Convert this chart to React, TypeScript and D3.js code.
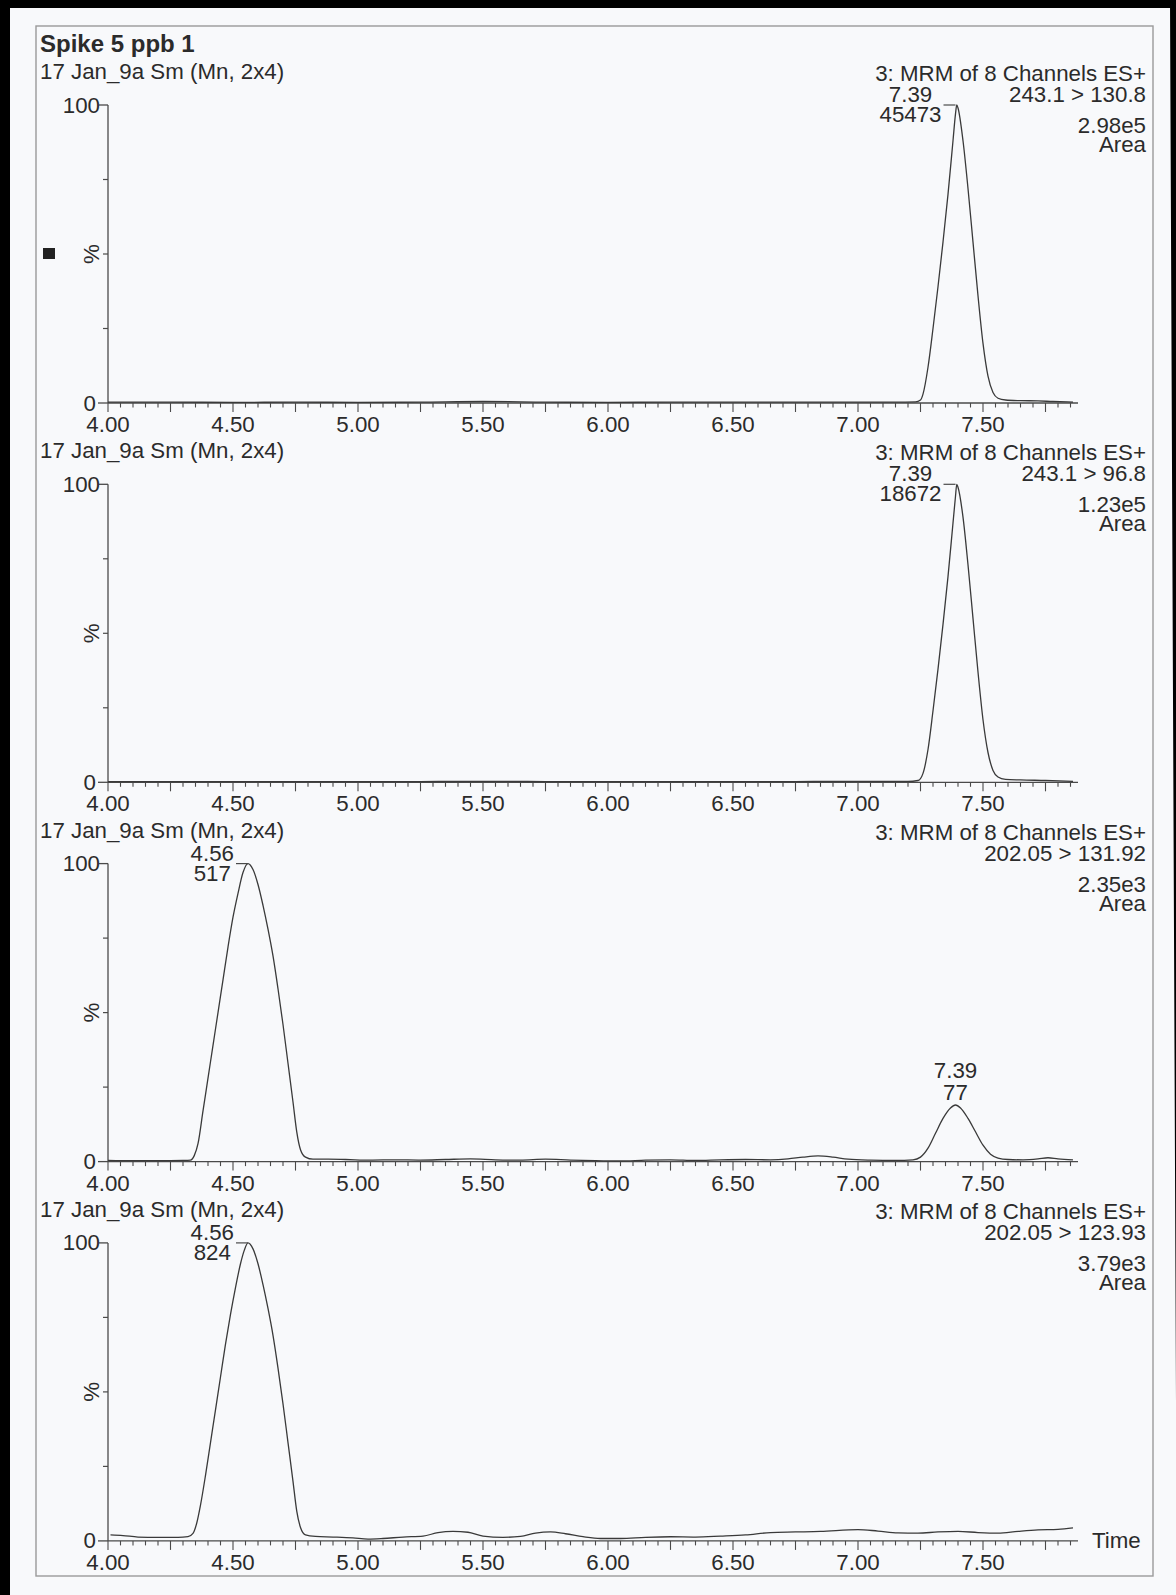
import React from "react";
import * as d3 from "d3";

const W = 1176;
const H = 1595;
const FONT = "'Liberation Sans', Arial, Helvetica, sans-serif";

// ---- text content ----
const title = "Spike 5 ppb 1";
const sampleHeaders = [
  "17 Jan_9a Sm (Mn, 2x4)",
  "17 Jan_9a Sm (Mn, 2x4)",
  "17 Jan_9a Sm (Mn, 2x4)",
  "17 Jan_9a Sm (Mn, 2x4)",
];
const functionLabels = [
  "3: MRM of 8 Channels ES+",
  "3: MRM of 8 Channels ES+",
  "3: MRM of 8 Channels ES+",
  "3: MRM of 8 Channels ES+",
];
const transitions = ["243.1 > 130.8", "243.1 > 96.8", "202.05 > 131.92", "202.05 > 123.93"];
const intensities = ["2.98e5", "1.23e5", "2.35e3", "3.79e3"];
const areaLabel = "Area";
const xTickValues = [4.0, 4.5, 5.0, 5.5, 6.0, 6.5, 7.0, 7.5];
const yMinorTicks = [25, 50, 75];
const xDomain = [4.0, 7.88];

// ---- peak annotations ----
const peakRt = [[7.39], [7.39], [4.56, 7.39], [4.56]];
const peakRtLabel = [["7.39"], ["7.39"], ["4.56", "7.39"], ["4.56"]];
const peakAreaLabel = [["45473"], ["18672"], ["517", "77"], ["824"]];
const peakPct = [[100], [100], [100, 19], [100]];

// ---- traces (time in min, intensity in %) ----
const time1 = [4.0, 4.25, 4.5, 4.75, 5.0, 5.25, 5.5, 5.75, 6.0, 6.25, 6.5, 6.75, 7.0, 7.15, 7.23, 7.25, 7.26, 7.28, 7.3, 7.32, 7.34, 7.36, 7.38, 7.39, 7.395, 7.4, 7.42, 7.44, 7.46, 7.48, 7.5, 7.52, 7.54, 7.56, 7.59, 7.65, 7.72, 7.78, 7.86];
const pct1 = [0.3, 0.3, 0.2, 0.3, 0.2, 0.3, 0.5, 0.3, 0.2, 0.3, 0.3, 0.3, 0.3, 0.3, 0.4, 1, 3, 12, 25, 39, 54, 70, 88, 97, 100, 99, 88, 72, 54, 36, 20, 9, 3.5, 1.6, 1.0, 0.8, 0.7, 0.5, 0.3];

const time2 = [4.0, 4.5, 5.0, 5.5, 6.0, 6.5, 7.0, 7.2, 7.24, 7.26, 7.28, 7.3, 7.32, 7.34, 7.36, 7.38, 7.39, 7.395, 7.4, 7.42, 7.44, 7.46, 7.48, 7.5, 7.52, 7.54, 7.56, 7.59, 7.65, 7.75, 7.86];
const pct2 = [0.2, 0.2, 0.2, 0.3, 0.2, 0.2, 0.3, 0.3, 0.6, 3, 11, 24, 38, 53, 69, 87, 96, 100, 99, 89, 73, 55, 37, 21, 10, 4, 1.8, 1.0, 0.8, 0.6, 0.3];

const time3 = [4.0, 4.1, 4.2, 4.3, 4.33, 4.345, 4.36, 4.38, 4.4, 4.42, 4.44, 4.46, 4.48, 4.5, 4.52, 4.54, 4.56, 4.58, 4.6, 4.62, 4.64, 4.66, 4.68, 4.7, 4.72, 4.74, 4.755, 4.77, 4.79, 4.82, 4.88, 4.95, 5.05, 5.15, 5.25, 5.35, 5.45, 5.55, 5.65, 5.75, 5.85, 5.95, 6.05, 6.15, 6.25, 6.35, 6.45, 6.55, 6.65, 6.72, 6.78, 6.84, 6.9, 6.96, 7.05, 7.15, 7.22, 7.25, 7.28, 7.31, 7.34, 7.37, 7.39, 7.41, 7.44, 7.47, 7.5, 7.53, 7.56, 7.6, 7.66, 7.72, 7.76, 7.8, 7.86];
const pct3 = [0.4, 0.3, 0.3, 0.4, 0.5, 2, 6, 17, 28, 39, 50, 61, 72, 82, 90, 97, 100, 98, 93, 86, 78, 69, 58, 46, 33, 20, 10, 4, 1.5, 0.8, 0.8, 0.7, 0.5, 0.6, 0.5, 0.7, 0.9, 0.6, 0.5, 0.8, 0.5, 0.3, 0.2, 0.5, 0.6, 0.4, 0.6, 0.7, 0.6, 0.9, 1.5, 1.9, 1.5, 0.8, 0.5, 0.4, 0.6, 1.5, 4.5, 9.5, 14.5, 18, 19, 18, 14.5, 10, 5.5, 2.5, 1.2, 0.7, 0.6, 0.9, 1.3, 0.9, 0.6];

const time4 = [4.01, 4.06, 4.12, 4.2, 4.28, 4.32, 4.34, 4.355, 4.37, 4.39, 4.41, 4.43, 4.45, 4.47, 4.49, 4.51, 4.53, 4.545, 4.56, 4.58, 4.6, 4.62, 4.64, 4.66, 4.68, 4.7, 4.72, 4.74, 4.755, 4.77, 4.79, 4.83, 4.9, 4.98, 5.04, 5.1, 5.18, 5.26, 5.32, 5.38, 5.44, 5.5, 5.58, 5.65, 5.71, 5.77, 5.83, 5.9, 5.97, 6.05, 6.15, 6.25, 6.35, 6.45, 6.55, 6.65, 6.75, 6.85, 7.0, 7.08, 7.16, 7.24, 7.32, 7.4, 7.48, 7.56, 7.64, 7.72, 7.8, 7.86];
const pct4 = [2.0, 1.8, 1.3, 1.2, 1.2, 1.4, 2.5, 6, 12, 22, 33, 44, 55, 66, 76, 85, 93, 97.5, 100, 98, 93, 86, 78, 69, 58, 46, 33, 20, 10, 4.5, 2, 1.5, 1.3, 1.0, 0.6, 0.8, 1.3, 1.6, 2.8, 3.2, 2.9, 1.6, 1.2, 1.5, 2.6, 3.0, 2.4, 1.4, 0.8, 0.8, 1.2, 1.4, 1.3, 1.6, 2.0, 2.8, 3.0, 3.2, 3.8, 3.3, 2.7, 2.6, 3.0, 3.2, 2.8, 2.6, 3.2, 3.7, 3.9, 4.4];

const traceTimes = [time1, time2, time3, time4];
const tracePcts = [pct1, pct2, pct3, pct4];

// ---- styling / layout ----
const TEXT = "#2b2b2b";
const LINE = "#4a4a4a";
const BG = "#f8f9fb";
const FS = 22.3;
const PANEL_TOP0 = 105;
const PANEL_PITCH = 379.3;
const PANEL_H = 298;
const X0 = 108;
const X1 = 1078;
const RIGHT_X = 1146;

function digitWidth(s: string) {
  let w = 0;
  for (const c of s) w += c === "." ? 0.278 : 0.556;
  return w * FS;
}

function Panel({ i }: { i: number }) {
  const yTop = PANEL_TOP0 + i * PANEL_PITCH;
  const yBot = yTop + PANEL_H;
  const x = d3.scaleLinear().domain(xDomain).range([X0, X1]);
  const y = d3.scaleLinear().domain([0, 100]).range([yBot, yTop]);
  const data = traceTimes[i].map((t, k) => [t, tracePcts[i][k]] as [number, number]);
  const line = d3
    .line<[number, number]>()
    .x((d) => x(d[0]))
    .y((d) => y(d[1]))
    .curve(d3.curveMonotoneX);

  const minor = d3.range(0, 78).map((k) => ({ v: 4.0 + k * 0.05, big: k % 5 === 0 }));

  return (
    <g>
      <text x={40} y={yTop - 26} fontSize={FS} fill={TEXT}>
        {sampleHeaders[i]}
      </text>
      <g textAnchor="end" fontSize={FS} fill={TEXT}>
        <text x={RIGHT_X} y={yTop - 24}>{functionLabels[i]}</text>
        <text x={RIGHT_X} y={yTop - 3}>{transitions[i]}</text>
        <text x={RIGHT_X} y={yTop + 28}>{intensities[i]}</text>
        <text x={RIGHT_X} y={yTop + 47}>{areaLabel}</text>
      </g>
      {/* y axis */}
      <line x1={X0} x2={X0} y1={y(0)} y2={y(100)} stroke={LINE} strokeWidth={1.3} />
      <line x1={X0 - 9} x2={X0} y1={y(100)} y2={y(100)} stroke={LINE} strokeWidth={1.3} />
      <line x1={X0 - 10} x2={X0} y1={y(0)} y2={y(0)} stroke={LINE} strokeWidth={1.3} />
      {yMinorTicks.map((v) => (
        <line key={v} x1={X0 - 5} x2={X0} y1={y(v)} y2={y(v)} stroke={LINE} strokeWidth={1.2} />
      ))}
      <text x={X0 - 8} y={y(100) + 7.5} textAnchor="end" fontSize={FS} fill={TEXT}>100</text>
      <text x={X0 - 12} y={y(0) + 7.5} textAnchor="end" fontSize={FS} fill={TEXT}>0</text>
      <text
        transform={`translate(91,${(yTop + yBot) / 2}) rotate(-90)`}
        textAnchor="middle"
        dominantBaseline="central"
        fontSize={FS}
        fill={TEXT}
      >
        %
      </text>
      {i === 0 && <rect x={43} y={(yTop + yBot) / 2 - 6} width={12} height={11} fill="#222" />}
      {/* x axis */}
      <line x1={X0} x2={X1} y1={yBot} y2={yBot} stroke={LINE} strokeWidth={1.3} />
      {minor.map((m, k) => (
        <line
          key={k}
          x1={x(m.v)}
          x2={x(m.v)}
          y1={yBot}
          y2={yBot + (m.big ? 9 : 4.5)}
          stroke={LINE}
          strokeWidth={1.1}
        />
      ))}
      {xTickValues.map((v) => (
        <text key={v} x={x(v)} y={yBot + 29} textAnchor="middle" fontSize={FS} fill={TEXT}>
          {v.toFixed(2)}
        </text>
      ))}
      {i === 3 && (
        <text x={1092} y={yBot + 7.5} fontSize={FS} fill={TEXT}>
          Time
        </text>
      )}
      {/* trace */}
      <path d={line(data) || ""} fill="none" stroke="#3a3a3a" strokeWidth={1.3} />
      {/* peak labels */}
      {peakRt[i].map((rt, k) => {
        const px = x(rt);
        const pyv = y(peakPct[i][k]);
        const a = peakRtLabel[i][k];
        const b = peakAreaLabel[i][k];
        if (peakPct[i][k] >= 90) {
          const w = Math.max(digitWidth(a), digitWidth(b));
          const cx = px - 14 - w / 2;
          return (
            <g key={k}>
              <line x1={px - 12} x2={px} y1={pyv} y2={pyv} stroke={LINE} strokeWidth={1.2} />
              <text x={cx} y={pyv - 3} textAnchor="middle" fontSize={FS} fill={TEXT}>{a}</text>
              <text x={cx} y={pyv + 17} textAnchor="middle" fontSize={FS} fill={TEXT}>{b}</text>
            </g>
          );
        }
        return (
          <g key={k}>
            <text x={px} y={pyv - 27} textAnchor="middle" fontSize={FS} fill={TEXT}>{a}</text>
            <text x={px} y={pyv - 5} textAnchor="middle" fontSize={FS} fill={TEXT}>{b}</text>
          </g>
        );
      })}
    </g>
  );
}

export default function App() {
  return (
    <svg
      width={W}
      height={H}
      viewBox={`0 0 ${W} ${H}`}
      style={{ position: "absolute", left: 0, top: 0, display: "block" }}
      fontFamily={FONT}
    >
      <rect x={0} y={0} width={W} height={H} fill={BG} />
      {/* scan border */}
      <rect x={0} y={0} width={10} height={H} fill="#000" />
      <rect x={0} y={0} width={W} height={8} fill="#000" />
      <polygon points={`${W - 6},0 ${W},0 ${W},${H} ${W},1400`} fill="#000" />
      {/* frame */}
      <rect x={36} y={26} width={1117} height={1550} fill="none" stroke="#9a9a9a" strokeWidth={1.4} />
      <text x={40} y={52} fontSize={24} fontWeight="bold" fill={TEXT}>
        {title}
      </text>
      {[0, 1, 2, 3].map((i) => (
        <Panel key={i} i={i} />
      ))}
    </svg>
  );
}
